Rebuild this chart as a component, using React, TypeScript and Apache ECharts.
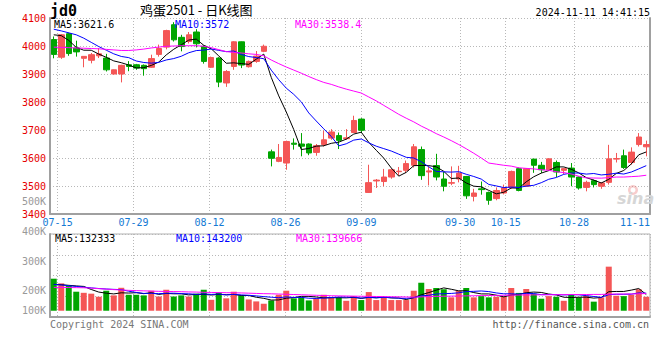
import React, { useEffect, useRef } from 'react';
import * as echarts from 'echarts';

// ---------- data ----------
const dates = [
  '07-12', '07-15', '07-16', '07-17', '07-18', '07-19', '07-22', '07-23', '07-24', '07-25',
  '07-26', '07-29', '07-30', '07-31', '08-01', '08-02', '08-05', '08-06', '08-07', '08-08',
  '08-09', '08-12', '08-13', '08-14', '08-15', '08-16', '08-19', '08-20', '08-21', '08-22',
  '08-23', '08-26', '08-27', '08-28', '08-29', '08-30', '09-02', '09-03', '09-04', '09-05',
  '09-06', '09-09', '09-10', '09-11', '09-12', '09-13', '09-18', '09-19', '09-20', '09-23',
  '09-24', '09-25', '09-26', '09-27', '09-30', '10-08', '10-09', '10-10', '10-11', '10-14',
  '10-15', '10-16', '10-17', '10-18', '10-21', '10-22', '10-23', '10-24', '10-25', '10-28',
  '10-29', '10-30', '10-31', '11-01', '11-04', '11-05', '11-06', '11-07', '11-08', '11-11',
];
const xLabels = ['07-15', '07-29', '08-12', '08-26', '09-09', '09-30', '10-15', '10-28', '11-11'];

const opens = [
  4023, 3960, 4044, 3993, 3956, 3949, 3965, 3957, 3900, 3900,
  3933, 3933, 3931, 3924, 3970, 3996, 4076, 4031, 4016, 4050,
  3999, 3924, 3957, 3868, 3927, 4015, 3926, 3945, 3981, 3622,
  3588, 3582, 3653, 3650, 3650, 3620, 3648, 3671, 3680, 3669,
  3691, 3739, 3477, 3518, 3516, 3532, 3551, 3556, 3574, 3630,
  3550, 3573, 3525, 3510, 3525, 3534, 3463, 3490, 3477, 3455,
  3475, 3495, 3562, 3499, 3596, 3574, 3558, 3584, 3556, 3564,
  3532, 3495, 3519, 3499, 3513, 3596, 3608, 3584, 3648, 3640,
];
const highs = [
  4034, 4043, 4048, 4019, 3964, 3975, 3993, 3972, 3916, 3933,
  3946, 3936, 3934, 3969, 4005, 4058, 4085, 4040, 4050, 4060,
  4003, 3962, 3960, 3914, 4017, 4016, 3948, 3982, 4005, 3630,
  3650, 3662, 3670, 3689, 3652, 3650, 3698, 3703, 3691, 3703,
  3751, 3742, 3576, 3525, 3561, 3562, 3568, 3591, 3650, 3641,
  3570, 3615, 3550, 3570, 3572, 3536, 3490, 3516, 3480, 3495,
  3505, 3555, 3566, 3564, 3597, 3586, 3598, 3591, 3565, 3582,
  3534, 3519, 3523, 3514, 3647, 3618, 3630, 3638, 3689, 3662,
];
const lows = [
  3956, 3954, 3965, 3962, 3924, 3938, 3957, 3909, 3898, 3870,
  3910, 3915, 3894, 3922, 3962, 3988, 4016, 3981, 4009, 3995,
  3937, 3922, 3853, 3854, 3915, 3921, 3923, 3940, 3978, 3570,
  3585, 3558, 3630, 3606, 3610, 3608, 3641, 3665, 3632, 3665,
  3690, 3689, 3475, 3493, 3499, 3526, 3537, 3546, 3566, 3522,
  3502, 3520, 3481, 3503, 3513, 3454, 3445, 3469, 3433, 3449,
  3470, 3490, 3481, 3497, 3547, 3546, 3555, 3532, 3543, 3499,
  3487, 3481, 3495, 3490, 3505, 3584, 3561, 3576, 3641, 3606,
];
const closes = [
  3970, 4040, 3973, 3979, 3963, 3969, 3972, 3915, 3915, 3931,
  3927, 3921, 3919, 3955, 3991, 4055, 4022, 3998, 4040, 4008,
  3945, 3959, 3871, 3909, 4015, 3932, 3945, 3964, 3999, 3599,
  3602, 3659, 3649, 3642, 3618, 3644, 3665, 3693, 3663, 3672,
  3734, 3699, 3512, 3521, 3532, 3558, 3553, 3580, 3640, 3537,
  3554, 3532, 3499, 3512, 3546, 3465, 3475, 3487, 3449, 3484,
  3493, 3552, 3484, 3562, 3574, 3558, 3597, 3550, 3562, 3532,
  3493, 3513, 3505, 3511, 3597, 3598, 3566, 3621, 3675, 3648,
];
const ma5 = [
  4040, 4037, 4020, 3995, 3985, 3984.8, 3971.2, 3959.6, 3946.8, 3940.4,
  3932, 3921.8, 3922.6, 3930.6, 3942.6, 3968.2, 3988.4, 4004.2, 4021.2, 4024.6,
  4002.6, 3990, 3964.6, 3938.4, 3939.8, 3937.2, 3934.4, 3953, 3971, 3887.8,
  3821.8, 3764.6, 3701.6, 3630.2, 3634, 3642.4, 3643.6, 3652.4, 3656.6, 3667.4,
  3685.4, 3692.2, 3656, 3627.6, 3599.6, 3564.4, 3535.2, 3548.8, 3572.6, 3573.6,
  3572.8, 3568.6, 3552.4, 3526.8, 3528.6, 3510.8, 3499.4, 3497, 3484.4, 3472,
  3477.6, 3493, 3492.4, 3515, 3533, 3546, 3555, 3568.2, 3568.2, 3559.8,
  3546.8, 3530, 3521, 3510.8, 3523.8, 3544.8, 3555.4, 3578.6, 3611.4, 3621.6,
];
const ma10 = [
  4060, 4054, 4047, 4040, 4028, 4013, 3998, 3985, 3972, 3962.7,
  3958.4, 3946.5, 3941.1, 3938.7, 3941.5, 3950.1, 3955.1, 3963.4, 3975.9, 3983.6,
  3985.4, 3989.2, 3984.4, 3979.8, 3982.2, 3969.9, 3962.2, 3958.8, 3954.7, 3913.8,
  3879.5, 3849.5, 3827.3, 3800.6, 3760.9, 3732.1, 3704.1, 3677, 3643.4, 3650.7,
  3663.9, 3667.9, 3654.2, 3642.1, 3633.5, 3624.9, 3613.7, 3602.4, 3600.1, 3586.6,
  3568.6, 3551.9, 3550.6, 3549.7, 3551.1, 3541.8, 3534, 3524.7, 3505.6, 3500.3,
  3494.2, 3496.2, 3494.7, 3499.7, 3502.5, 3511.8, 3524, 3530.3, 3541.6, 3546.4,
  3546.4, 3542.5, 3544.6, 3539.5, 3541.8, 3545.8, 3542.7, 3549.8, 3561.1, 3572.7,
];
const ma30 = [
  3996, 3995, 3994, 3993, 3992, 3991, 3990, 3988, 3986, 3984,
  3984, 3986, 3989, 3993, 3996, 3999, 4000, 4001, 4001, 4001,
  3999, 3994, 3987, 3980, 3977, 3975, 3972, 3970, 3965, 3950,
  3937, 3925, 3914, 3903, 3891, 3880, 3870, 3863, 3854, 3846,
  3839, 3832, 3818, 3804, 3788, 3772, 3756, 3742, 3729, 3714,
  3701, 3687, 3675, 3662, 3648, 3633, 3617, 3600, 3582, 3578,
  3574, 3571, 3565, 3563, 3561, 3558, 3556, 3551, 3548, 3543,
  3535, 3529, 3528.5, 3528, 3530, 3532, 3532, 3533.5, 3535, 3538.4,
];
// volume, in thousands of lots
const volumes = [
  261, 223, 204, 155, 146, 139, 114, 163, 125, 187,
  130, 130, 125, 163, 116, 171, 116, 125, 116, 139,
  171, 89, 149, 101, 155, 125, 92, 76, 57, 84,
  130, 163, 101, 109, 84, 101, 130, 106, 109, 81,
  119, 87, 152, 87, 109, 87, 87, 87, 163, 228,
  177, 185, 175, 109, 163, 185, 109, 119, 109, 114,
  114, 185, 145, 177, 139, 98, 119, 114, 81, 128,
  109, 122, 74, 109, 359, 122, 119, 130, 175, 114,
];
const volMa5 = [
  215, 212, 207, 202, 198, 173, 152, 143, 137, 146,
  144, 147, 139, 147, 133, 141, 138, 138, 129, 133,
  133, 128, 133, 130, 133, 124, 124, 110, 101, 87,
  88, 102, 107, 117, 117, 112, 105, 106, 106, 105,
  109, 100, 110, 105, 111, 104, 104, 91, 107, 130,
  148, 168, 186, 175, 162, 163, 148, 137, 137, 127,
  113, 128, 133, 147, 152, 149, 136, 129, 110, 108,
  110, 111, 103, 108, 155, 157, 157, 168, 181, 132,
];
const volMa10 = [
  215, 210, 204, 198, 192, 186, 181, 177, 174, 172,
  159, 149, 141, 142, 139, 142, 143, 139, 138, 133,
  137, 133, 136, 129, 133, 129, 126, 121, 115, 110,
  106, 113, 108, 109, 102, 100, 104, 107, 112, 111,
  110, 103, 108, 106, 108, 107, 102, 101, 106, 121,
  126, 136, 139, 141, 146, 156, 158, 161, 156, 145,
  138, 138, 135, 142, 140, 131, 132, 131, 129, 130,
  130, 123, 116, 109, 131, 134, 134, 135, 145, 143,
];
const volMa30 = [
  190, 190, 189, 188, 187, 184, 180, 176, 172, 169,
  166, 164, 162, 160, 158, 157, 156, 155, 153, 152,
  150, 149, 148, 147, 146, 145, 143, 141, 139, 138,
  136, 134, 132, 130, 128, 126, 124, 122, 121, 120,
  119, 118, 117, 116, 115, 114, 113, 112, 111, 113,
  115, 117, 118, 119, 120, 121, 122, 123, 124, 125,
  126, 127, 128, 129, 129, 130, 130, 131, 131, 132,
  132, 132, 133, 133, 135, 136, 136, 137, 138, 140,
];
const priceLegend = ['MA5:3621.6', 'MA10:3572', 'MA30:3538.4'];
const volLegend = ['MA5:132333', 'MA10:143200', 'MA30:139666'];
const volTickLabels = ['500K', '400K', '300K', '200K', '100K'];

// ---------- layout / style ----------
const MONO = '"DejaVu Sans Mono", "Liberation Mono", monospace';
const UP = '#f45656';
const DOWN = '#00a500';
const AXIS = '#a0a0a0';
const DOT = { color: '#b8b8b8', width: 1, type: [1, 2] };
const LEGEND_X = [54, 175, 295];
const LEGEND_COLORS = ['#000000', '#0000ff', '#ff00ff'];
const VOL_LABEL_Y = [201, 231, 261, 290, 310];

const txt = (text: string, x: number, y: number, fill: string, font: string, align = 'left') => ({
  type: 'text',
  x,
  y,
  z: 100,
  silent: true,
  style: {
    text,
    fill,
    font,
    align,
    textAlign: align,
    verticalAlign: 'middle',
    textVerticalAlign: 'middle',
  },
});

export default function App() {
  const ref = useRef<HTMLDivElement>(null);

  useEffect(() => {
    if (!ref.current) return;
    const chart = echarts.init(ref.current, undefined, { renderer: 'svg' });
    const candle = dates.map((_, i) => [opens[i], closes[i], lows[i], highs[i]]);
    const volData = volumes.map((v, i) => ({
      value: v,
      itemStyle: { color: closes[i] >= opens[i] ? UP : DOWN },
    }));
    const isLabel = (_i: number, v: string) => xLabels.includes(v);
    const line = (data: number[], color: string, x: number, y: number) => ({
      type: 'line',
      xAxisIndex: x,
      yAxisIndex: y,
      data,
      symbol: 'none',
      showSymbol: false,
      silent: true,
      lineStyle: { color, width: 1 },
      itemStyle: { color },
    });

    const graphic: any[] = [
      txt('jd0', 50, 11, '#000', `bold 15px ${MONO}`),
      txt('鸡蛋2501 - 日K线图', 140, 9, '#000', '13px "Noto Sans CJK SC"'),
      txt('2024-11-11 14:41:15', 650, 12, '#000', `10px ${MONO}`, 'right'),
      txt('Copyright 2024 SINA.COM', 50, 324, '#777', `10px ${MONO}`),
      txt('http://finance.sina.com.cn', 649, 324, '#555', `10px ${MONO}`, 'right'),
      {
        type: 'ring',
        shape: { cx: 633, cy: 190, r: 5, r0: 2.5 },
        style: { fill: 'rgba(235,110,110,0.35)' },
        silent: true,
        z: 50,
      },
      txt('sina', 617, 198, '#d6d6d6', `italic bold 16px "DejaVu Sans"`),
    ];
    priceLegend.forEach((t, k) => graphic.push(txt(t, LEGEND_X[k], 24, LEGEND_COLORS[k], `10px ${MONO}`)));
    volLegend.forEach((t, k) => graphic.push(txt(t, LEGEND_X[k] + 1, 238, LEGEND_COLORS[k], `10px ${MONO}`)));
    volTickLabels.forEach((t, k) => graphic.push(txt(t, 46, VOL_LABEL_Y[k], '#999', `10px ${MONO}`, 'right')));

    chart.setOption({
      animation: false,
      backgroundColor: '#ffffff',
      textStyle: { fontFamily: MONO },
      grid: [
        { left: 50, right: 10, top: 18, height: 196 },
        {
          left: 50,
          right: 10,
          top: 234,
          height: 83,
          show: true,
          borderColor: '#b0b0b0',
          borderWidth: 1,
          backgroundColor: 'transparent',
        },
      ],
      xAxis: [
        { type: 'category', gridIndex: 0, data: dates, boundaryGap: true, show: false, position: 'bottom' },
        {
          type: 'category',
          gridIndex: 0,
          data: dates,
          boundaryGap: false,
          position: 'bottom',
          axisLine: { show: true, onZero: false, lineStyle: { color: AXIS, width: 2 } },
          axisTick: { show: false },
          axisLabel: {
            interval: isLabel,
            color: '#1479d4',
            fontFamily: MONO,
            fontSize: 10,
            margin: 3,
            alignMaxLabel: 'right',
          },
          splitLine: { show: true, interval: isLabel, lineStyle: DOT },
        },
        { type: 'category', gridIndex: 1, data: dates, boundaryGap: true, show: false, position: 'bottom' },
        {
          type: 'category',
          gridIndex: 1,
          data: dates,
          boundaryGap: false,
          position: 'bottom',
          axisLine: { show: true, onZero: false, lineStyle: { color: AXIS, width: 2 } },
          axisTick: { show: false },
          axisLabel: { show: false },
          splitLine: { show: true, interval: isLabel, lineStyle: DOT },
        },
      ],
      yAxis: [
        {
          type: 'value',
          gridIndex: 0,
          position: 'left',
          min: 3400,
          max: 4100,
          interval: 100,
          axisLine: { show: true, lineStyle: { color: AXIS, width: 2 } },
          axisTick: { show: false },
          axisLabel: {
            color: '#e60000',
            fontFamily: MONO,
            fontSize: 10,
            margin: 4,
            padding: [0, 0, 4, 0],
            formatter: (v: number) => String(v),
          },
          splitLine: { show: true, lineStyle: DOT },
        },
        {
          type: 'value',
          gridIndex: 0,
          position: 'right',
          min: 3400,
          max: 4100,
          axisLine: { show: true, lineStyle: { color: AXIS, width: 2 } },
          axisTick: { show: false },
          axisLabel: { show: false },
          splitLine: { show: false },
        },
        {
          type: 'value',
          gridIndex: 1,
          position: 'left',
          min: -51,
          max: 625,
          axisLine: { show: true, lineStyle: { color: AXIS, width: 2 } },
          axisTick: { show: false },
          axisLabel: { show: false },
          splitLine: { show: false },
        },
        {
          type: 'value',
          gridIndex: 1,
          position: 'right',
          min: 0,
          max: 4,
          interval: 1,
          axisLine: { show: false },
          axisTick: { show: false },
          axisLabel: { show: false },
          splitLine: { show: true, lineStyle: DOT },
        },
      ],
      series: [
        {
          type: 'candlestick',
          xAxisIndex: 0,
          yAxisIndex: 0,
          data: candle,
          barWidth: 6,
          silent: true,
          itemStyle: { color: UP, color0: DOWN, borderColor: UP, borderColor0: DOWN, borderWidth: 1 },
        },
        line(ma5, '#000000', 0, 0),
        line(ma10, '#0000ff', 0, 0),
        line(ma30, '#ff00ff', 0, 0),
        {
          type: 'bar',
          xAxisIndex: 2,
          yAxisIndex: 2,
          data: volData,
          barWidth: 6,
          silent: true,
        },
        line(volMa5, '#000000', 2, 2),
        line(volMa10, '#0000ff', 2, 2),
        line(volMa30, '#ff00ff', 2, 2),
      ],
      graphic,
    });
    return () => chart.dispose();
  }, []);

  return (
    <div
      ref={ref}
      style={{ position: 'fixed', left: 0, top: 0, width: 660, height: 360, background: '#fff' }}
    />
  );
}
